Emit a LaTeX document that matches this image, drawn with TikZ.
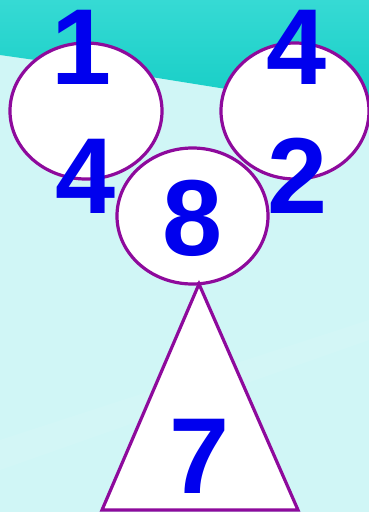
\documentclass[tikz,border=0pt]{standalone}
\usepackage{fontspec}
\setmainfont{Liberation Sans}
\definecolor{bglight}{HTML}{D0F6F6}
\definecolor{teal1}{HTML}{14CDC5}
\definecolor{teal2}{HTML}{36DAD4}
\definecolor{shapeline}{HTML}{8E0A9C}
\definecolor{digit}{HTML}{0000EE}
\tikzset{
  bubble/.style={draw=shapeline, line width=3.2pt, fill=white},
  num/.style={text=digit, font=\bfseries\fontsize{108}{110}\selectfont, inner sep=0pt, anchor=center},
}
\begin{document}
\begin{tikzpicture}[x=1pt,y=-1pt]
\useasboundingbox (0,0) rectangle (369,512);
% background
\fill[bglight] (0,0) rectangle (369,512);
\shade[top color=teal2, bottom color=teal1] (0,0) -- (369,0) -- (369,110) -- (220,88) -- (120,72) -- (0,55) -- cycle;
\fill[white, opacity=0.08] (0,440) -- (369,320) -- (369,340) -- (0,470) -- cycle;
% shapes
\draw[bubble] (86,111) ellipse [x radius=76, y radius=68];
\draw[bubble] (295,111) ellipse [x radius=74, y radius=68];
\draw[bubble] (192.5,216) ellipse [x radius=75.5, y radius=68];
\coordinate (apex) at (199,284);
\coordinate (bl) at (102,510);
\coordinate (br) at (298,510);
\draw[bubble, line join=miter] (apex) -- (br) -- (bl) -- cycle;
% digits
\node[num] (n1) at (82,47) {1};
\node[num] (n4a) at (297,47) {4};
\node[num] (n4b) at (86,176) {4};
\node[num] (n2) at (298,176) {2};
\node[num] (n8) at (192.5,218.5) {8};
\node[num] (n7) at (200,456) {7};
\end{tikzpicture}
\end{document}
